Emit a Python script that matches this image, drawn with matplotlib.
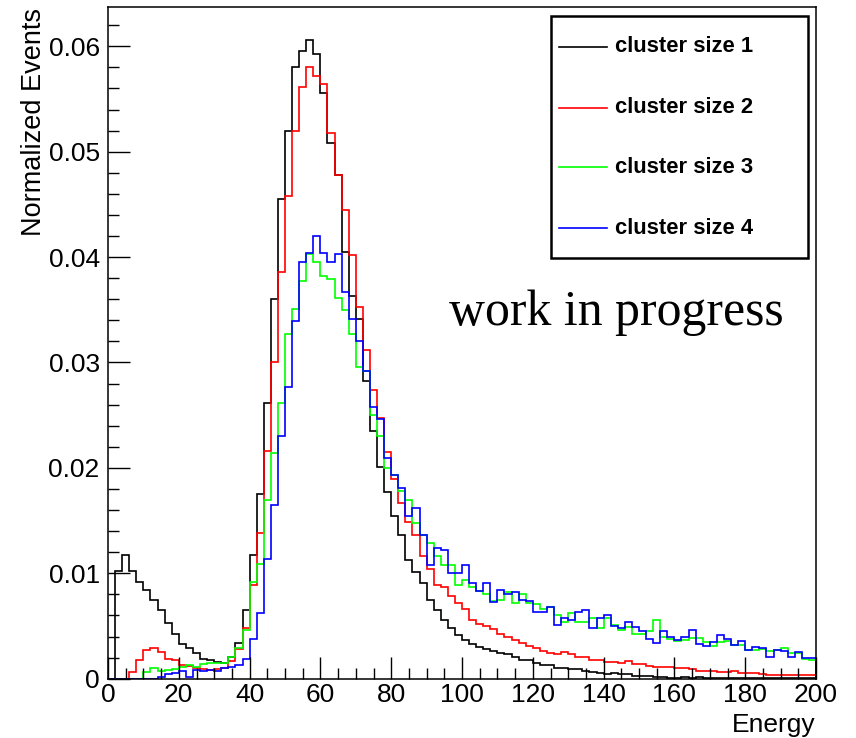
import numpy as np
import matplotlib
matplotlib.use("Agg")
import matplotlib.pyplot as plt
from matplotlib.ticker import MultipleLocator, FixedLocator, FuncFormatter
from matplotlib.lines import Line2D
from matplotlib.patches import Rectangle

plt.rcParams['font.family'] = ['Liberation Sans', 'DejaVu Sans']

# ---- data: 100 bins of width 2 from 0 to 200 ----
bin_edges = np.arange(0, 202, 2)

cluster1 = [0.0, 0.0102, 0.0117, 0.0102, 0.0092, 0.0084, 0.0075, 0.0065, 0.0053, 0.0042,
            0.0033, 0.0029, 0.0024, 0.0019, 0.0018, 0.0016, 0.0015, 0.0021, 0.0034, 0.0065,
            0.0117, 0.0175, 0.0262, 0.0360, 0.0455, 0.0520, 0.0580, 0.0596, 0.0606, 0.0593,
            0.0556, 0.0508, 0.0478, 0.0405, 0.0363, 0.0341, 0.0282, 0.0235, 0.0201, 0.0177,
            0.0154, 0.0136, 0.0113, 0.0101, 0.0091, 0.0075, 0.0065, 0.0056, 0.0048, 0.0041,
            0.0037, 0.0033, 0.0030, 0.0028, 0.0026, 0.0024, 0.0023, 0.0021, 0.0018, 0.0018,
            0.0015, 0.0013, 0.0013, 0.0010, 0.0010, 0.0009, 0.0009, 0.0007, 0.0006, 0.0005,
            0.0004, 0.0005, 0.0004, 0.0004, 0.0003, 0.0003, 0.0003, 0.0002, 0.0002, 0.0001,
            0.0001, 0.0002, 0.0001, 0.0002, 0.0001, 0.0001, 0.00005, 0.0001, 0.00005, 0.00005,
            0.00005, 0.00005, 0.00003, 0.00005, 0.00003, 0.00003, 0.00003, 0.00003, 0.00003, 0.00003]

cluster2 = [0.0, 0.0, 0.0, 0.0006, 0.0018, 0.0027, 0.0029, 0.0025, 0.0019, 0.0018,
            0.0013, 0.0012, 0.0010, 0.0009, 0.0008, 0.0009, 0.0010, 0.0017, 0.0028, 0.0048,
            0.0089, 0.0138, 0.0216, 0.0300, 0.0386, 0.0458, 0.0520, 0.0561, 0.0580, 0.0572,
            0.0564, 0.0518, 0.0478, 0.0445, 0.0402, 0.0353, 0.0312, 0.0274, 0.0247, 0.0215,
            0.0189, 0.0167, 0.0149, 0.0136, 0.0116, 0.0104, 0.0089, 0.0087, 0.0078, 0.0072,
            0.0066, 0.0056, 0.0052, 0.0050, 0.0047, 0.0042, 0.0040, 0.0037, 0.0034, 0.0031,
            0.0029, 0.0026, 0.0024, 0.0023, 0.0025, 0.0023, 0.0021, 0.0021, 0.0018, 0.0018,
            0.0016, 0.0016, 0.0015, 0.0017, 0.0014, 0.0014, 0.0012, 0.0011, 0.0011, 0.0011,
            0.0010, 0.0010, 0.0009, 0.0007, 0.0007, 0.0007, 0.0006, 0.0006, 0.0007, 0.0005,
            0.0005, 0.0005, 0.0004, 0.00035, 0.00035, 0.00035, 0.00035, 0.00035, 0.00035, 0.00035]

cluster3 = [0.0, 0.0, 0.0, 0.0, 0.0, 0.0006, 0.0010, 0.0007, 0.0008, 0.0009,
            0.0011, 0.0013, 0.0011, 0.0014, 0.0015, 0.0015, 0.0015, 0.0021, 0.0029, 0.0046,
            0.0092, 0.0109, 0.0170, 0.0214, 0.0262, 0.0327, 0.0351, 0.0377, 0.0403, 0.0395,
            0.0382, 0.0379, 0.0361, 0.0350, 0.0327, 0.0296, 0.0292, 0.0250, 0.0230, 0.0200,
            0.0193, 0.0178, 0.0170, 0.0148, 0.0136, 0.0129, 0.0116, 0.0108, 0.0108, 0.0089,
            0.0094, 0.0087, 0.0083, 0.0080, 0.0074, 0.0075, 0.0082, 0.0072, 0.0080, 0.0072,
            0.0071, 0.0066, 0.0068, 0.0060, 0.0054, 0.0062, 0.0054, 0.0054, 0.0058, 0.0048,
            0.0058, 0.0051, 0.0046, 0.0049, 0.0042, 0.0042, 0.0045, 0.0056, 0.0040, 0.0038,
            0.0036, 0.0037, 0.0039, 0.0039, 0.0035, 0.0031, 0.0035, 0.0036, 0.0032, 0.0032,
            0.0027, 0.0027, 0.0028, 0.0026, 0.0027, 0.0029, 0.0024, 0.0024, 0.0019, 0.0018]

cluster4 = [0.0, 0.0, 0.0, 0.0, 0.0, 0.0, 0.0, 0.0002, 0.0004, 0.0005,
            0.0007, 0.0002, 0.0008, 0.0007, 0.0008, 0.0007, 0.0010, 0.0011, 0.0013, 0.0019,
            0.0038, 0.0062, 0.0114, 0.0165, 0.0230, 0.0277, 0.0339, 0.0395, 0.0404, 0.0420,
            0.0404, 0.0395, 0.0403, 0.0367, 0.0341, 0.0320, 0.0292, 0.0258, 0.0246, 0.0209,
            0.0193, 0.0181, 0.0154, 0.0162, 0.0136, 0.0108, 0.0124, 0.0122, 0.0100, 0.0100,
            0.0108, 0.0091, 0.0083, 0.0091, 0.0073, 0.0084, 0.0080, 0.0082, 0.0075, 0.0074,
            0.0063, 0.0063, 0.0068, 0.0051, 0.0058, 0.0056, 0.0063, 0.0065, 0.0048, 0.0058,
            0.0060, 0.0050, 0.0048, 0.0054, 0.0049, 0.0045, 0.0038, 0.0034, 0.0045, 0.0040,
            0.0037, 0.0040, 0.0046, 0.0033, 0.0031, 0.0035, 0.0041, 0.0038, 0.0032, 0.0036,
            0.0027, 0.0030, 0.0029, 0.0021, 0.0027, 0.0026, 0.0021, 0.0025, 0.0020, 0.0020]

series = [cluster1, cluster2, cluster3, cluster4]
labels = ["cluster size 1", "cluster size 2", "cluster size 3", "cluster size 4"]
colors = ["#000000", "#ff0000", "#00ff00", "#0000ff"]

x_ticks = [0, 20, 40, 60, 80, 100, 120, 140, 160, 180, 200]
y_ticks = [0, 0.01, 0.02, 0.03, 0.04, 0.05, 0.06]

# ---- figure ----
W, H = 856, 738
fig = plt.figure(figsize=(W / 100, H / 100), dpi=100)
ax_l, ax_r, ax_t, ax_b = 108, 816, 7.3, 678.7
ax = fig.add_axes([ax_l / W, 1 - ax_b / H, (ax_r - ax_l) / W, (ax_b - ax_t) / H])

for vals, col in zip(series, colors):
    ax.stairs(vals, bin_edges, color=col, linewidth=1.2, baseline=0)

ax.set_xlim(0, 200)
ax.set_ylim(0, 0.0637)

ax.xaxis.set_major_locator(FixedLocator(x_ticks))
ax.xaxis.set_minor_locator(MultipleLocator(5))
ax.yaxis.set_major_locator(FixedLocator(y_ticks))
ax.yaxis.set_minor_locator(MultipleLocator(0.002))
ax.yaxis.set_major_formatter(FuncFormatter(lambda v, p: "0" if v == 0 else f"{v:.2f}"))
ax.xaxis.set_major_formatter(FuncFormatter(lambda v, p: f"{v:.0f}"))

ax.tick_params(axis='both', which='both', direction='in', top=False, right=False,
               width=1.0, color='black')
ax.tick_params(axis='both', which='major', length=16, labelsize=19)
ax.tick_params(axis='both', which='minor', length=8)
ax.tick_params(axis='x', which='major', pad=3)
ax.tick_params(axis='y', which='major', pad=6)
for s in ax.spines.values():
    s.set_linewidth(1.1)

fig.text(34 / W, 1 - 8 / H, "Normalized Events", rotation=90, ha='center', va='top',
         fontsize=19.5)
fig.text(ax_r / W, 1 - 737 / H, "Energy", ha='right', va='bottom', fontsize=19)

# legend box (ROOT style)
def fx(px):
    return (px - ax_l) / (ax_r - ax_l)

def fy(py):
    return (ax_b - py) / (ax_b - ax_t)

ax.add_patch(Rectangle((fx(551), fy(258)), fx(808) - fx(551), fy(16) - fy(258),
                       transform=ax.transAxes, fill=True, facecolor='white',
                       edgecolor='black', linewidth=1.8, zorder=5))
entry_y = [46.7, 107.7, 167.3, 228.3]
for yy, lab, col in zip(entry_y, labels, colors):
    ax.add_line(Line2D([fx(559), fx(607)], [fy(yy), fy(yy)], transform=ax.transAxes,
                       color=col, linewidth=1.2, zorder=6))
    ax.text(fx(615), fy(yy), lab, transform=ax.transAxes, ha='left', va='center',
            fontsize=15.8, fontweight='bold', zorder=6)

ax.text(fx(449), fy(325), "work in progress", transform=ax.transAxes, ha='left',
        va='baseline', fontsize=35.8, family=['Liberation Serif', 'DejaVu Serif'])

fig.savefig("out.png", dpi=100)
